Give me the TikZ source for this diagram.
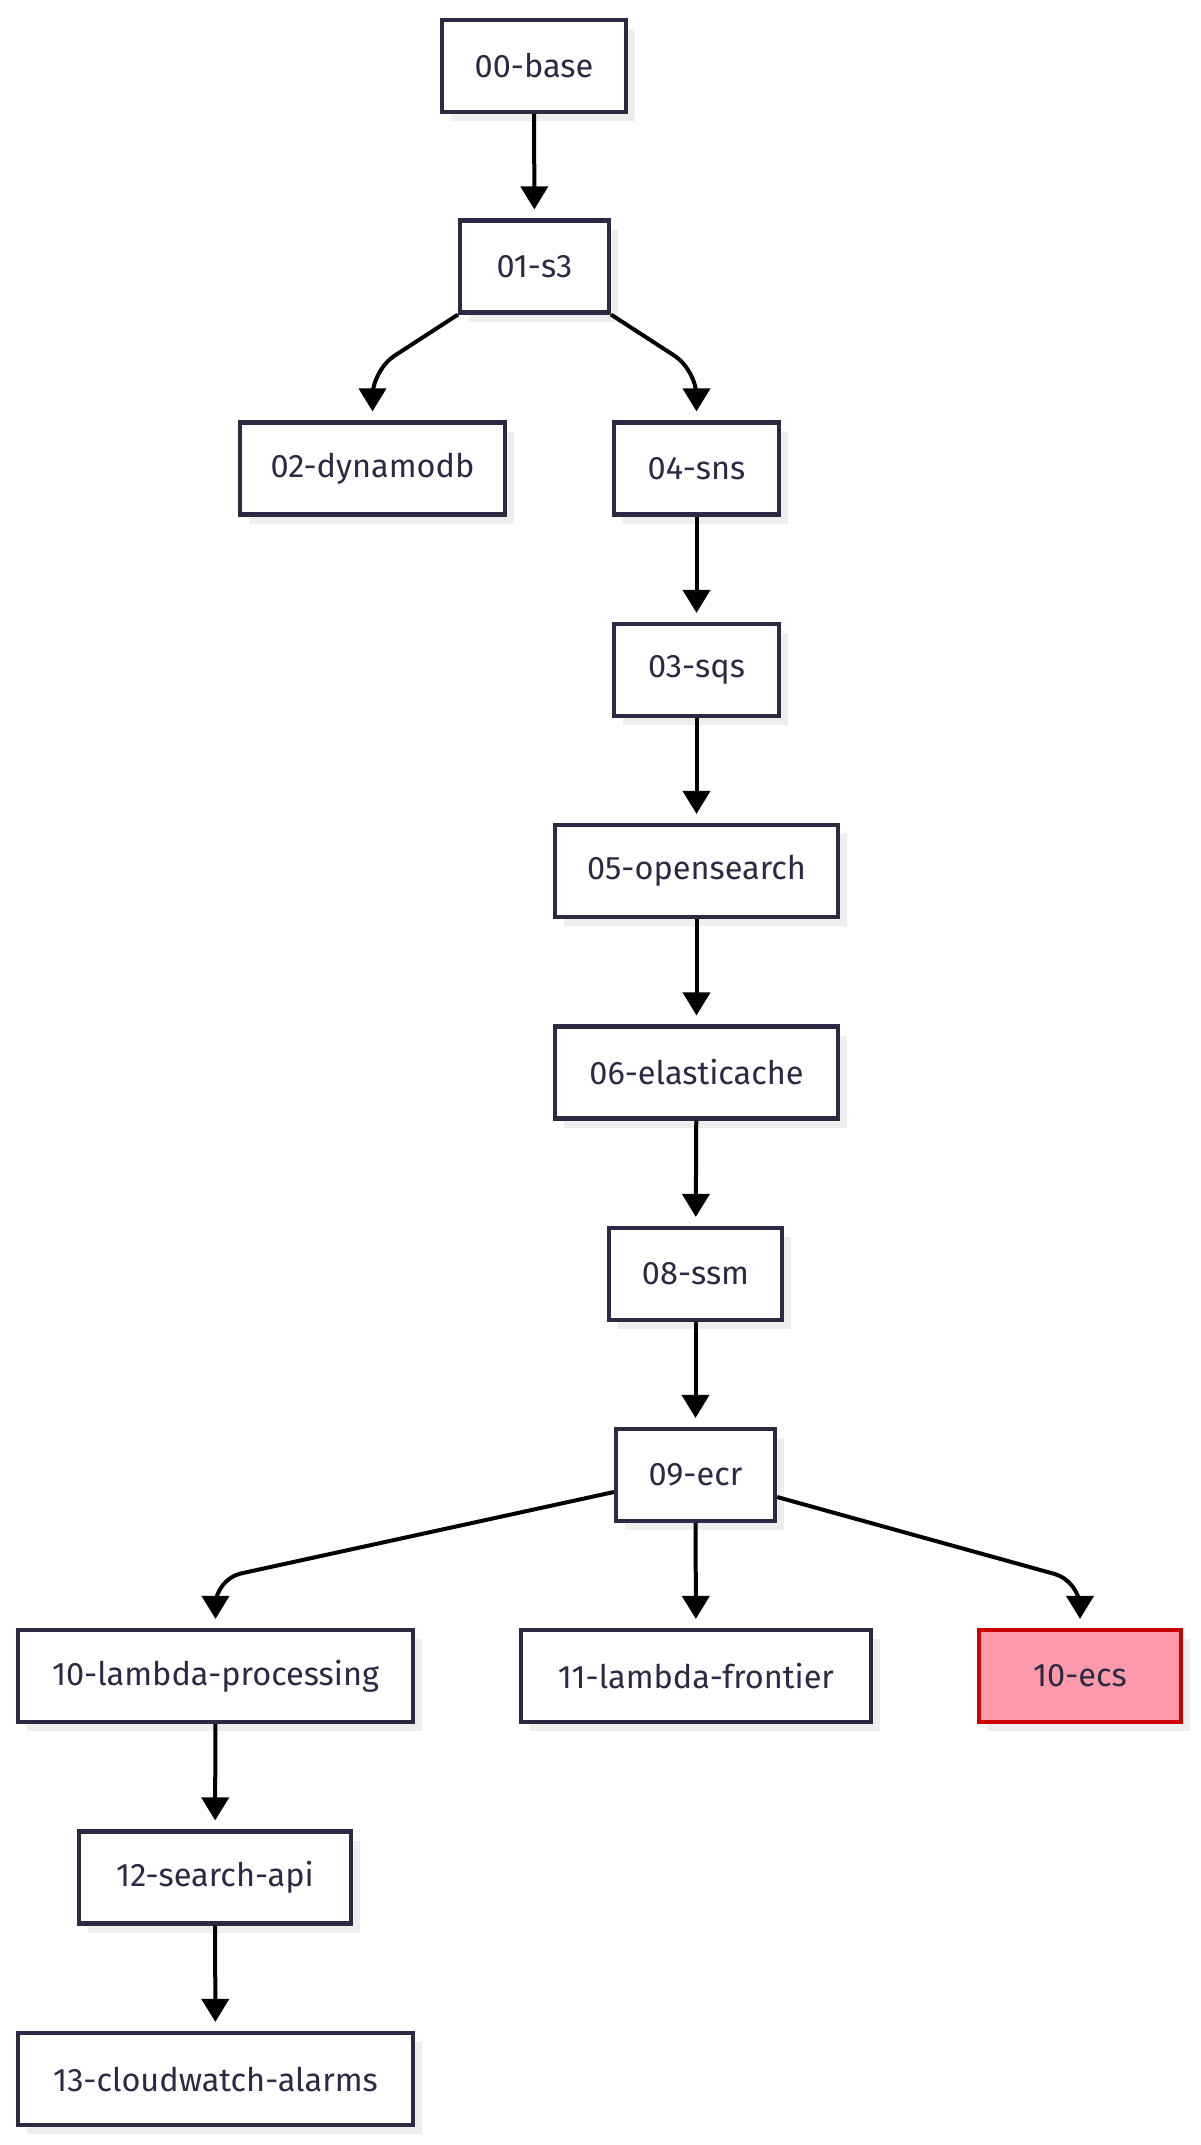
\documentclass[tikz,border=0pt]{standalone}
\usepackage{fontspec}
\setmainfont{Fira Sans}
\usetikzlibrary{arrows.meta,shadows}
\definecolor{navy}{HTML}{2A2A44}
\definecolor{shade}{HTML}{EEEEEE}
\definecolor{ecsfill}{HTML}{FF9AAA}
\definecolor{ecsline}{HTML}{CC0000}
\begin{document}
\begin{tikzpicture}[x=1pt,y=-1pt,
  box/.style={draw=navy, line width=4.2pt, fill=white, text=navy, minimum height=92pt, inner sep=0pt,
    font=\fontsize{32.5}{38}\selectfont,
    drop shadow={shadow xshift=9pt,shadow yshift=-9pt,fill=shade,opacity=1}},
  alert/.style={draw=ecsline, fill=ecsfill},
  link/.style={line width=4pt, draw=black, -{Triangle[width=27pt,length=23pt]}, shorten >=9pt, rounded corners=26pt}]
\useasboundingbox (0,0) rectangle (1200,2145);

\node[box, minimum width=184pt] (base) at (534,66) {00-base};
\node[box, minimum width=149pt] (s3) at (534.5,266.5) {01-s3};
\node[box, minimum width=265pt] (dyn) at (372.5,468.5) {02-dynamodb};
\node[box, minimum width=165pt] (sns) at (696.5,468.5) {04-sns};
\node[box, minimum width=165pt] (sqs) at (696.5,670) {03-sqs};
\node[box, minimum width=283pt] (os) at (696.5,871) {05-opensearch};
\node[box, minimum width=283pt] (ec) at (696.5,1072.5) {06-elasticache};
\node[box, minimum width=173pt] (ssm) at (695.5,1274) {08-ssm};
\node[box, minimum width=159pt] (ecr) at (695.5,1475) {09-ecr};
\node[box, minimum width=395pt] (lp) at (215.5,1676) {10-lambda-processing};
\node[box, minimum width=350pt] (lf) at (696,1676) {11-lambda-frontier};
\node[box, alert, minimum width=202pt] (ecs) at (1080,1676) {10-ecs};
\node[box, minimum width=272pt] (sa) at (215,1877.5) {12-search-api};
\node[box, minimum width=395pt] (cw) at (215.5,2079) {13-cloudwatch-alarms};

\coordinate (c1) at (372.5,370);
\coordinate (c2) at (696.5,370);
\coordinate (c3) at (215.5,1579);
\coordinate (c4) at (1080,1581);

\draw[link] (base) -- (s3);
\draw[link] (s3.south west) -- (c1) -- (dyn.north);
\draw[link] (s3.south east) -- (c2) -- (sns.north);
\draw[link] (sns) -- (sqs);
\draw[link] (sqs) -- (os);
\draw[link] (os) -- (ec);
\draw[link] (ec) -- (ssm);
\draw[link] (ssm) -- (ecr);
\draw[link] ([yshift=-17pt]ecr.west) -- (c3) -- (lp.north);
\draw[link] (ecr) -- (lf);
\draw[link] ([yshift=-22pt]ecr.east) -- (c4) -- (ecs.north);
\draw[link] (lp) -- (sa);
\draw[link] (sa) -- (cw);
\end{tikzpicture}
\end{document}
